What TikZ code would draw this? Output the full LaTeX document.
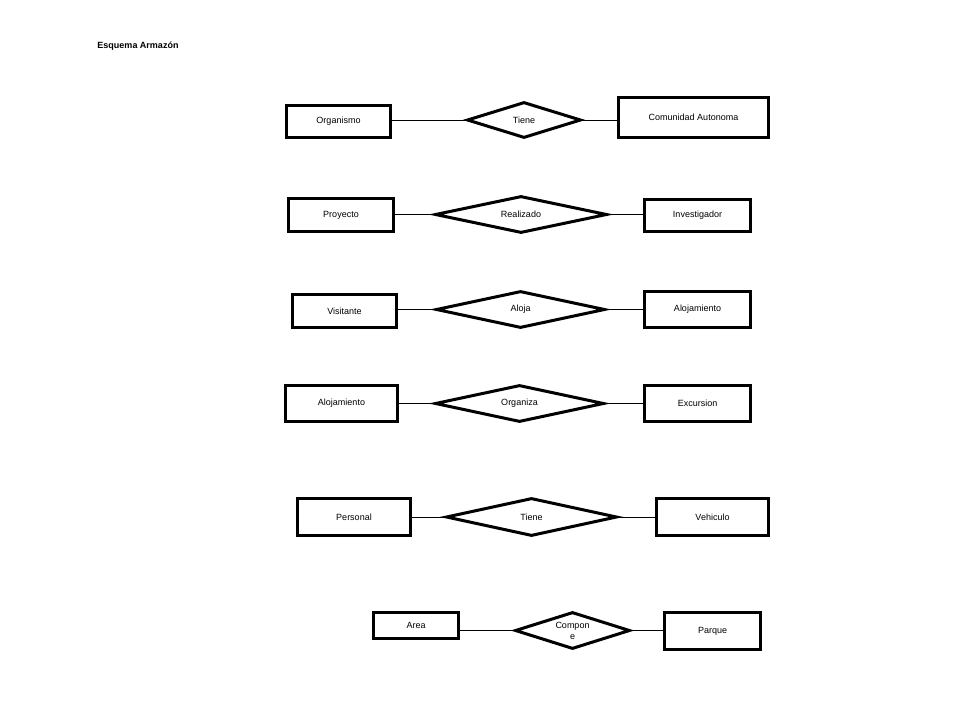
\documentclass[tikz,border=0pt]{standalone}
\usepackage{fontspec}
\setmainfont{Liberation Sans}
\usetikzlibrary{shapes.geometric}
\begin{document}
\begin{tikzpicture}[x=1pt,y=-1pt,font=\fontsize{9}{11}\selectfont,
		entidad/.style={rectangle,draw=black,line width=3pt,inner sep=0pt},
		relacion/.style={diamond,draw=black,line width=3pt,inner sep=0pt,aspect=3,align=center},
		enlace/.style={black,line width=1pt}]
			\useasboundingbox (0,0) rectangle (960,720);
			\node[font=\fontsize{9}{11}\selectfont\bfseries](titulo) at (138,46){Esquema Armazón};
			% Organismo - Tiene - Comunidad Autonoma
			\node[entidad,minimum width=104pt,minimum height=32pt](org) at (338.5,121.5){Organismo};
			\node[relacion,minimum width=114pt,minimum height=36pt](tieneA) at (524,120){Tiene};
			\node[entidad,minimum width=150pt,minimum height=40pt](cca) at (693.5,117.5){Comunidad Autonoma};
			\draw[enlace](tieneA.west)--(tieneA.west-|org.east);
			\draw[enlace](tieneA.east)--(tieneA.east-|cca.west);
			% Proyecto - Realizado - Investigador
			\node[entidad,minimum width=105pt,minimum height=33pt](proy) at (341,215){Proyecto};
			\node[relacion,minimum width=172pt,minimum height=37pt](real) at (521,214.5){Realizado};
			\node[entidad,minimum width=106pt,minimum height=32pt](inv) at (697.5,215.5){Investigador};
			\draw[enlace](real.west)--(real.west-|proy.east);
			\draw[enlace](real.east)--(real.east-|inv.west);
			% Visitante - Aloja - Alojamiento
			\node[entidad,minimum width=104pt,minimum height=33pt](vis) at (344.5,311){Visitante};
			\node[relacion,minimum width=169pt,minimum height=37pt](aloja) at (520.5,309.5){Aloja};
			\node[entidad,minimum width=106pt,minimum height=36pt](alojA) at (697.5,309.5){Alojamiento};
			\draw[enlace](aloja.west)--(aloja.west-|vis.east);
			\draw[enlace](aloja.east)--(aloja.east-|alojA.west);
			% Alojamiento - Organiza - Excursion
			\node[entidad,minimum width=112pt,minimum height=36pt](alojB) at (341.5,403.5){Alojamiento};
			\node[relacion,minimum width=169pt,minimum height=37pt](orgz) at (519.5,403.5){Organiza};
			\node[entidad,minimum width=106pt,minimum height=36pt](exc) at (697.5,403.5){Excursion};
			\draw[enlace](orgz.west)--(orgz.west-|alojB.east);
			\draw[enlace](orgz.east)--(orgz.east-|exc.west);
			% Personal - Tiene - Vehiculo
			\node[entidad,minimum width=113pt,minimum height=37pt](pers) at (354,517){Personal};
			\node[relacion,minimum width=171pt,minimum height=38pt](tieneB) at (531.5,517){Tiene};
			\node[entidad,minimum width=112pt,minimum height=37pt](veh) at (712.5,517){Vehiculo};
			\draw[enlace](tieneB.west)--(tieneB.west-|pers.east);
			\draw[enlace](tieneB.east)--(tieneB.east-|veh.west);
			% Area - Compone - Parque
			\node[entidad,minimum width=85pt,minimum height=26pt](area) at (416,625.5){Area};
			\node[relacion,minimum width=115pt,minimum height=37pt](comp) at (572.5,630.5){Compon\\e};
			\node[entidad,minimum width=96pt,minimum height=37pt](parq) at (712.5,631){Parque};
			\draw[enlace](comp.west)--(comp.west-|area.east);
			\draw[enlace](comp.east)--(comp.east-|parq.west);
		\end{tikzpicture}
\end{document}
